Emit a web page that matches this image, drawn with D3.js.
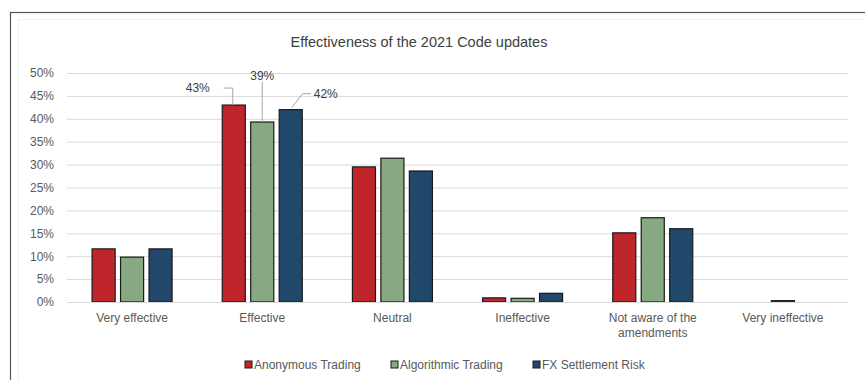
<!DOCTYPE html>
<html>
<head>
<meta charset="utf-8">
<script src="https://cdn.jsdelivr.net/npm/d3@7"></script>
<style>
  html, body { margin: 0; padding: 0; background: #fff; }
  svg { display: block; }
  text { font-family: "Liberation Sans", Arial, sans-serif; }
</style>
</head>
<body>
<svg id="chart" width="865" height="380"></svg>
<script>
const categories = ["Very effective", "Effective", "Neutral", "Ineffective", "Not aware of the amendments", "Very ineffective"];
const seriesNames = ["Anonymous Trading", "Algorithmic Trading", "FX Settlement Risk"];
const anonymousTrading = [0.116, 0.43, 0.295, 0.009, 0.151, 0];
const algorithmicTrading = [0.098, 0.393, 0.314, 0.008, 0.184, 0.003];
const fxSettlementRisk = [0.116, 0.42, 0.286, 0.019, 0.160, 0];
const yTicks = [0, 0.05, 0.10, 0.15, 0.20, 0.25, 0.30, 0.35, 0.40, 0.45, 0.50];
const colors = ["#be262c", "#87a981", "#21486b"];
const title = "Effectiveness of the 2021 Code updates";

const series = [anonymousTrading, algorithmicTrading, fxSettlementRisk];
const FS = 12;

const svg = d3.select("#chart");

// frame
svg.append("rect").attr("x", 10.5).attr("y", 12.5).attr("width", 870).attr("height", 400)
  .attr("fill", "#fff").attr("stroke", "#555").attr("stroke-width", 1.2);
svg.append("rect").attr("x", 18.5).attr("y", 19.5).attr("width", 860).attr("height", 400)
  .attr("fill", "none").attr("stroke", "#f0f0f0").attr("stroke-width", 1);

const x0 = d3.scaleBand().domain(categories).range([67, 848]).padding(0);
const x1 = d3.scaleBand().domain(seriesNames).range([-40, 40]).paddingInner(0.19);
const y = d3.scaleLinear().domain([0, 0.5]).range([302, 73]);

// title
svg.append("text").attr("x", 419).attr("y", 47).attr("text-anchor", "middle")
  .attr("font-size", 14.5).attr("fill", "#404040").text(title);

// y axis with gridlines
const yAxis = d3.axisLeft(y).tickValues(yTicks).tickFormat(d3.format(".0%"))
  .tickSize(-(848 - 67)).tickPadding(13);
const gy = svg.append("g").attr("transform", "translate(67,0)").call(yAxis);
gy.select(".domain").remove();
gy.selectAll(".tick line").attr("stroke", "#d9d9d9").attr("stroke-width", 1);
gy.selectAll(".tick text").attr("fill", "#595959").attr("font-size", FS)
  .style("font-family", '"Liberation Sans", Arial, sans-serif');

// bars
const g = svg.append("g");
categories.forEach((c, ci) => {
  const cx = x0(c) + x0.bandwidth() / 2;
  seriesNames.forEach((s, si) => {
    const v = series[si][ci];
    if (v <= 0) return;
    g.append("rect")
      .attr("x", cx + x1(s))
      .attr("y", y(v))
      .attr("width", x1.bandwidth())
      .attr("height", y(0) - y(v))
      .attr("fill", colors[si])
      .attr("stroke", "#1a1a1a")
      .attr("stroke-width", 1.2);
  });
});

// x axis labels
const xAxis = d3.axisBottom(x0).tickSize(0).tickPadding(11);
const gx = svg.append("g").attr("transform", "translate(0,302)").call(xAxis);
gx.select(".domain").attr("stroke", "#d9d9d9");
gx.selectAll(".tick text").attr("fill", "#595959").attr("font-size", FS)
  .style("font-family", '"Liberation Sans", Arial, sans-serif')
  .each(function(d) {
    const t = d3.select(this);
    if (d === "Not aware of the amendments") {
      t.text(null);
      t.append("tspan").attr("x", 0).attr("dy", "0.71em").text("Not aware of the");
      t.append("tspan").attr("x", 0).attr("dy", "1.25em").text("amendments");
      t.attr("dy", null);
    }
  });

// data labels with leader lines (Effective group)
const ci = categories.indexOf("Effective");
const ecx = x0("Effective") + x0.bandwidth() / 2;
const fmt = d3.format(".0%");
const lblStyle = sel => sel.attr("font-size", FS).attr("fill", "#404040").attr("text-anchor", "middle");
// Anonymous
{
  const bx = ecx + x1(seriesNames[0]) + x1.bandwidth() / 2;
  const by = y(anonymousTrading[ci]);
  svg.append("path").attr("d", `M${bx - 10},${by - 17}H${bx - 1}V${by}`)
    .attr("fill", "none").attr("stroke", "#a6a6a6");
  svg.append("text").attr("x", bx - 36).attr("y", by - 13).call(lblStyle).text(fmt(anonymousTrading[ci]));
}
// Algorithmic
{
  const bx = ecx + x1(seriesNames[1]) + x1.bandwidth() / 2;
  const by = y(algorithmicTrading[ci]);
  svg.append("path").attr("d", `M${bx},${by - 40}V${by}`)
    .attr("fill", "none").attr("stroke", "#a6a6a6");
  svg.append("text").attr("x", bx).attr("y", by - 42).call(lblStyle).text(fmt(algorithmicTrading[ci]));
}
// FX
{
  const bx = ecx + x1(seriesNames[2]) + x1.bandwidth() / 2;
  const by = y(fxSettlementRisk[ci]);
  svg.append("path").attr("d", `M${bx + 20},${by - 16}H${bx + 12}L${bx + 1},${by - 2}`)
    .attr("fill", "none").attr("stroke", "#a6a6a6");
  svg.append("text").attr("x", bx + 35).attr("y", by - 12).call(lblStyle).text(fmt(fxSettlementRisk[ci]));
}

// legend
const legendX = [245, 391, 533];
const lg = svg.append("g");
seriesNames.forEach((s, i) => {
  lg.append("rect").attr("x", legendX[i]).attr("y", 361).attr("width", 7).attr("height", 7)
    .attr("fill", colors[i]).attr("stroke", "#1a1a1a").attr("stroke-width", 1);
  lg.append("text").attr("x", legendX[i] + 9).attr("y", 369)
    .attr("font-size", FS).attr("fill", "#595959").text(s);
});
</script>
</body>
</html>
